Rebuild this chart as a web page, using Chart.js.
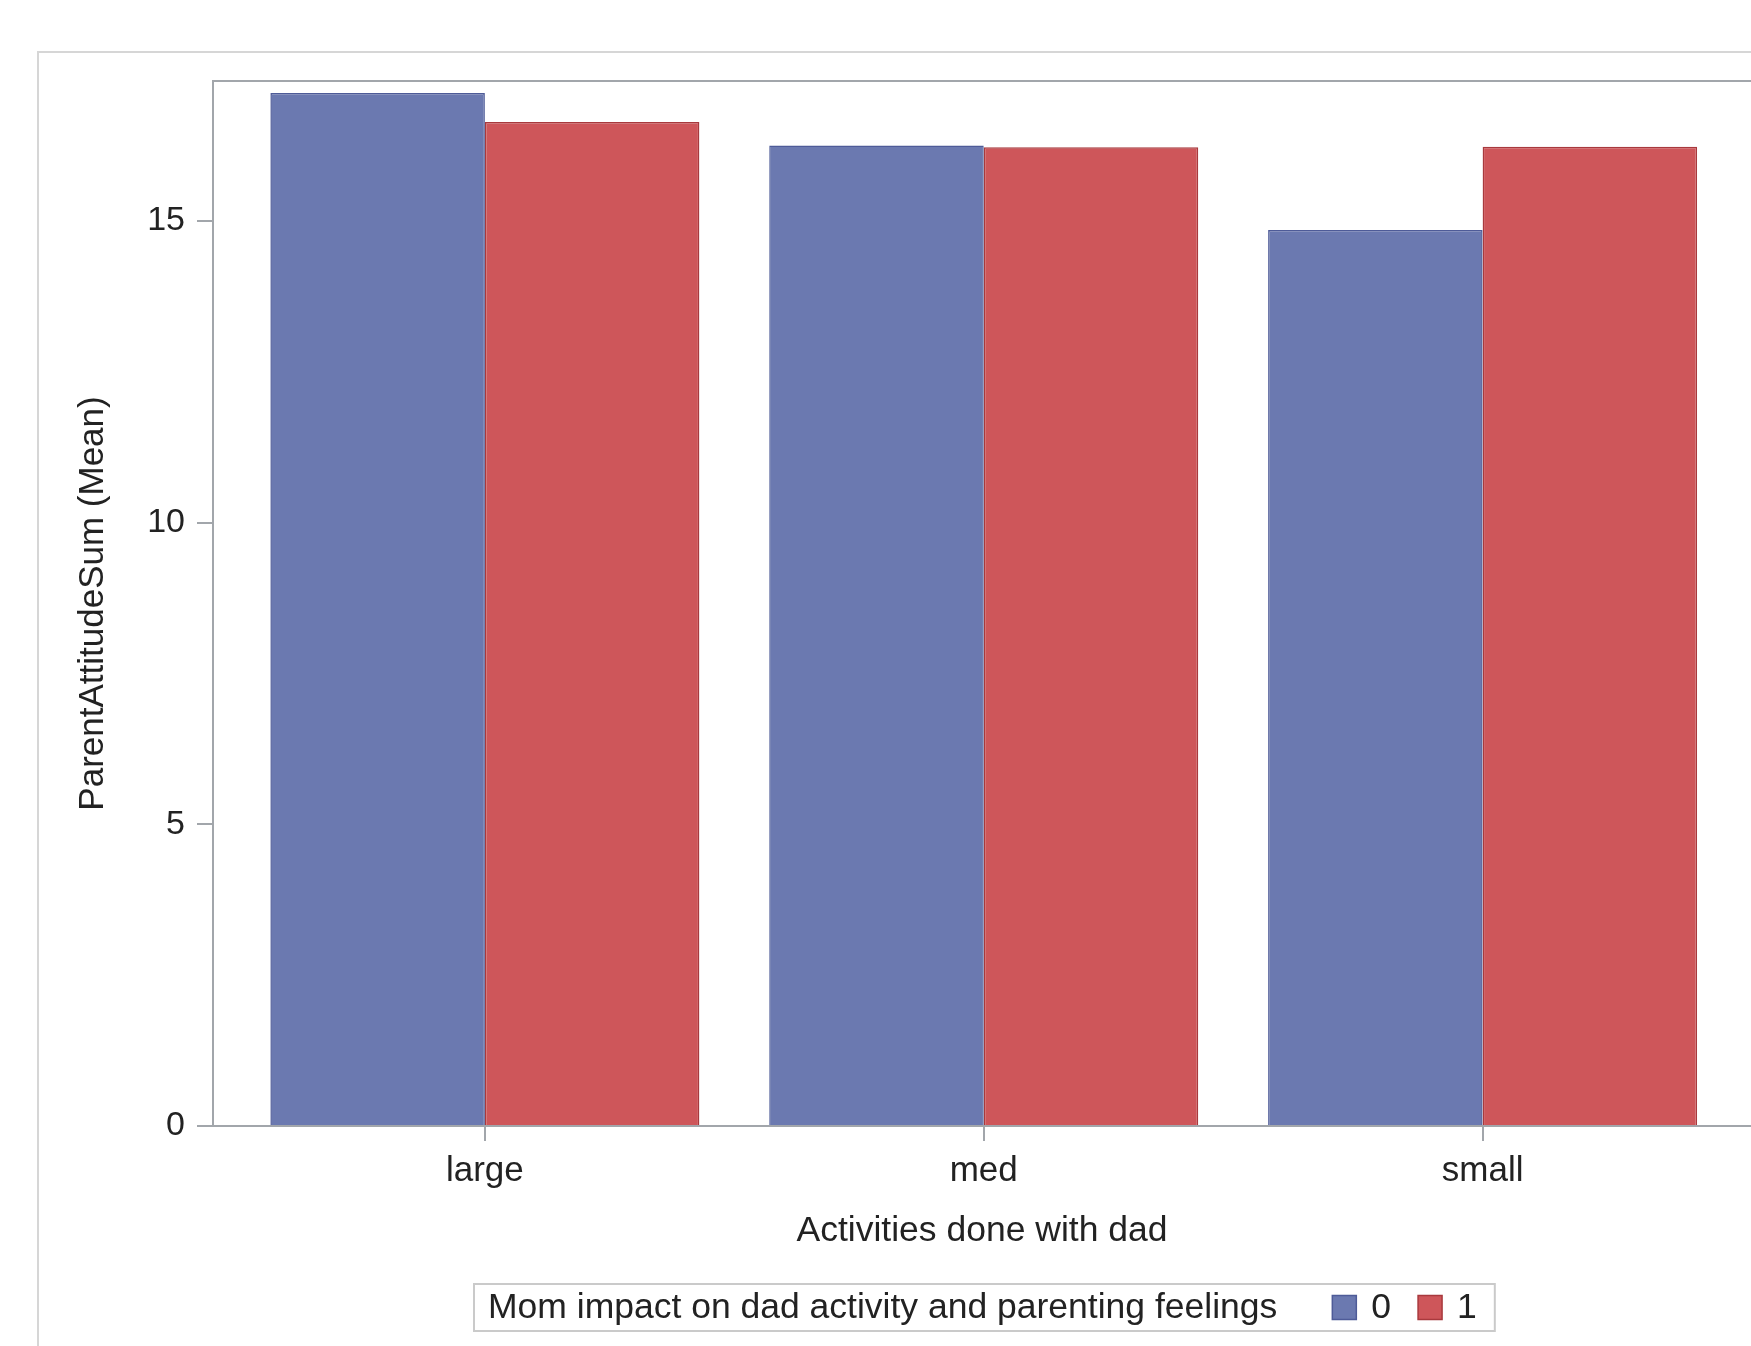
<!DOCTYPE html>
<html>
<head>
<meta charset="utf-8">
<script src="https://cdn.jsdelivr.net/npm/chart.js@4.4.1/dist/chart.umd.min.js"></script>
<style>
  html, body { margin: 0; padding: 0; background: #fff; }
  #wrap { width: 1751px; height: 1346px; position: relative; }
</style>
</head>
<body>
<div id="wrap"><canvas id="barchart"></canvas></div>
<script>
// values
const categories = ['large', 'med', 'small'];
const groupNames = ['0', '1'];
const mean0 = [17.12, 16.25, 14.85];
const mean1 = [16.64, 16.22, 16.23];
const yTicks = [0, 5, 10, 15];
const yMax = 17.32;

const canvas = document.getElementById('barchart');
Chart.defaults.font.family = "'Liberation Sans', Arial, sans-serif";
Chart.defaults.color = '#222';

const axisGrey = '#a2a6ab';
const legendTitle = 'Mom impact on dad activity and parenting feelings';

// frame around the plot/page and the inline SAS-style legend
const framePlugin = {
  id: 'frames',
  beforeDraw(chart) {
    const ctx = chart.ctx, a = chart.chartArea;
    ctx.save();
    ctx.strokeStyle = '#d6d6d6';
    ctx.lineWidth = 2;
    ctx.strokeRect(38, 52, chart.width, chart.height);
    ctx.strokeStyle = axisGrey;
    ctx.beginPath();
    ctx.moveTo(a.left, a.top);
    ctx.lineTo(a.right, a.top);
    ctx.stroke();
    ctx.restore();
  },
  afterDraw(chart) {
    const ctx = chart.ctx, a = chart.chartArea;
    ctx.save();
    ctx.font = "35.5px 'Liberation Sans', Arial, sans-serif";
    const tw = ctx.measureText(legendTitle).width;
    const items = chart.data.datasets.map(ds => ({
      label: ds.label, fill: ds.backgroundColor, line: ds.borderColor,
      w: ctx.measureText(ds.label).width
    }));
    let total = 14 + tw + 55 + 18;
    items.forEach((it, i) => { total += 24 + 15 + it.w + (i ? 27 : 0); });
    const left = Math.round((a.left + a.right) / 2 - total / 2) + 2;
    const top = 1284, h = 47, mid = top + h / 2;
    ctx.fillStyle = '#fff';
    ctx.fillRect(left, top, total, h);
    ctx.strokeStyle = '#cacaca';
    ctx.lineWidth = 2;
    ctx.strokeRect(left, top, total, h);
    ctx.fillStyle = '#222';
    ctx.textBaseline = 'middle';
    ctx.fillText(legendTitle, left + 14, mid + 1);
    let x = left + 14 + tw + 55;
    items.forEach((it, i) => {
      if (i) x += 27;
      ctx.fillStyle = it.fill;
      ctx.fillRect(x, mid - 12, 24, 24);
      ctx.strokeStyle = it.line;
      ctx.lineWidth = 1.5;
      ctx.strokeRect(x, mid - 12, 24, 24);
      x += 24 + 15;
      ctx.fillStyle = '#222';
      ctx.fillText(it.label, x, mid + 1);
      x += it.w;
    });
    ctx.restore();
  }
};

const data = {
  datasets: [{
    label: groupNames[0],
    data: mean0.map((v, i) => ({ x: i, y: v })),
    backgroundColor: '#6b79b0',
    borderColor: '#4e5b98',
    borderWidth: 1.5
  }, {
    label: groupNames[1],
    data: mean1.map((v, i) => ({ x: i, y: v })),
    backgroundColor: '#ce565a',
    borderColor: '#a8393d',
    borderWidth: 1.5
  }]
};

const options = {
  responsive: true,
  maintainAspectRatio: false,
  animation: false,
  layout: { padding: { top: 81, left: 0, right: 0, bottom: 0 } },
  datasets: { bar: { categoryPercentage: 0.86, barPercentage: 1 } },
  scales: {
    x: {
      type: 'linear',
      offset: false,
      min: -0.545,
      max: 2.538,
      afterBuildTicks: s => { s.ticks = categories.map((c, i) => ({ value: i })); },
      afterFit: s => { s.height = 220; },
      ticks: { callback: v => categories[v], font: { size: 35 }, padding: 9, autoSkip: false, maxRotation: 0 },
      grid: { offset: false, drawOnChartArea: false, drawTicks: true, tickLength: 15, color: axisGrey, lineWidth: 2 },
      border: { display: true, color: axisGrey, width: 2 },
      title: { display: true, text: 'Activities done with dad', font: { size: 35.5 }, padding: { top: 0, bottom: 93 } }
    },
    y: {
      min: 0,
      max: yMax,
      afterBuildTicks: s => { s.ticks = yTicks.map(v => ({ value: v })); },
      afterFit: s => { s.width = 213; },
      ticks: { font: { size: 34 }, padding: 12 },
      grid: { drawOnChartArea: false, drawTicks: true, tickLength: 16, color: axisGrey, lineWidth: 2 },
      border: { display: true, color: axisGrey, width: 2 },
      title: { display: true, text: 'ParentAttitudeSum (Mean)', font: { size: 35 }, padding: { top: 72, bottom: 0 } }
    }
  },
  plugins: {
    legend: { display: false },
    tooltip: { enabled: false }
  }
};

const barChart = new Chart(canvas, {
  type: 'bar',
  data: data,
  options: options,
  plugins: [framePlugin]
});
</script>
</body>
</html>
